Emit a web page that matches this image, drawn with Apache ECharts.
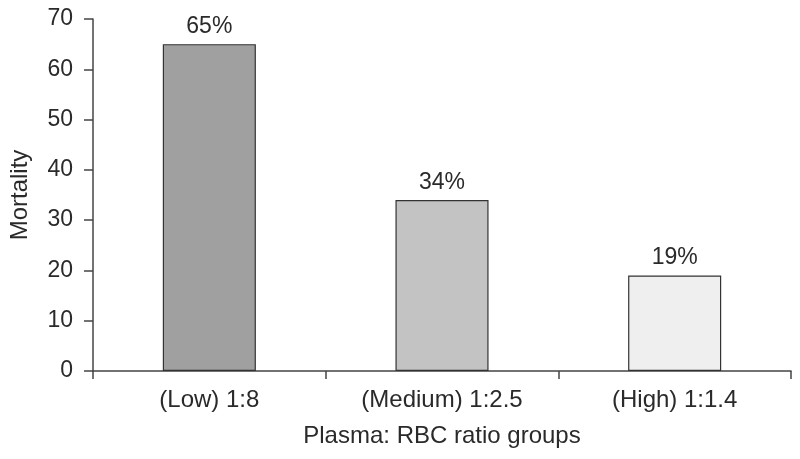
<!DOCTYPE html>
<html>
<head>
<meta charset="utf-8">
<script src="https://cdn.jsdelivr.net/npm/echarts@6/dist/echarts.min.js"></script>
<style>html,body{margin:0;padding:0;background:#fff}#c{width:800px;height:459px}</style>
</head>
<body>
<div id="c"></div>
<script>
const categories = ['(Low) 1:8', '(Medium) 1:2.5', '(High) 1:1.4'];
const mortality = [65, 34, 19];
const barColors = ['#a0a0a0', '#c3c3c3', '#efefef'];
const yTicks = { min: 0, max: 70, interval: 10 };

const font = 'Liberation Sans, Arial, Helvetica, sans-serif';
const fs = 23;
const fsBig = 24;
const txt = '#2a2a2a';
const chart = echarts.init(document.getElementById('c'), null, { renderer: 'canvas' });
chart.setOption({
  animation: false,
  backgroundColor: '#ffffff',
  grid: { left: 93, right: 9, top: 19, bottom: 88, containLabel: false },
  xAxis: {
    type: 'category',
    data: categories,
    name: 'Plasma: RBC ratio groups',
    nameLocation: 'middle',
    nameGap: 53,
    nameTextStyle: { fontFamily: font, fontSize: fsBig, color: txt },
    axisLine: { lineStyle: { color: '#444', width: 1.5 } },
    axisTick: { show: true, length: 8, alignWithLabel: false, lineStyle: { color: '#444', width: 1.5 } },
    axisLabel: { fontFamily: font, fontSize: fsBig, color: txt, margin: 17 },
    splitLine: { show: false }
  },
  yAxis: {
    type: 'value',
    min: yTicks.min, max: yTicks.max, interval: yTicks.interval,
    name: 'Mortality',
    nameLocation: 'middle',
    nameGap: 61,
    nameTextStyle: { fontFamily: font, fontSize: fsBig, color: txt },
    axisLine: { show: true, lineStyle: { color: '#444', width: 1.5 } },
    axisTick: { show: true, length: 9, lineStyle: { color: '#444', width: 1.5 } },
    axisLabel: { fontFamily: font, fontSize: fs, color: txt, margin: 20 },
    splitLine: { show: false }
  },
  series: [{
    type: 'bar',
    barWidth: '40%',
    data: mortality.map((v, i) => ({ value: v, itemStyle: { color: barColors[i] } })),
    itemStyle: { borderColor: '#333', borderWidth: 1.2 },
    label: { show: true, position: 'top', distance: 6, formatter: '{c}%', fontFamily: font, fontSize: fs, color: txt }
  }]
});
</script>
</body>
</html>
